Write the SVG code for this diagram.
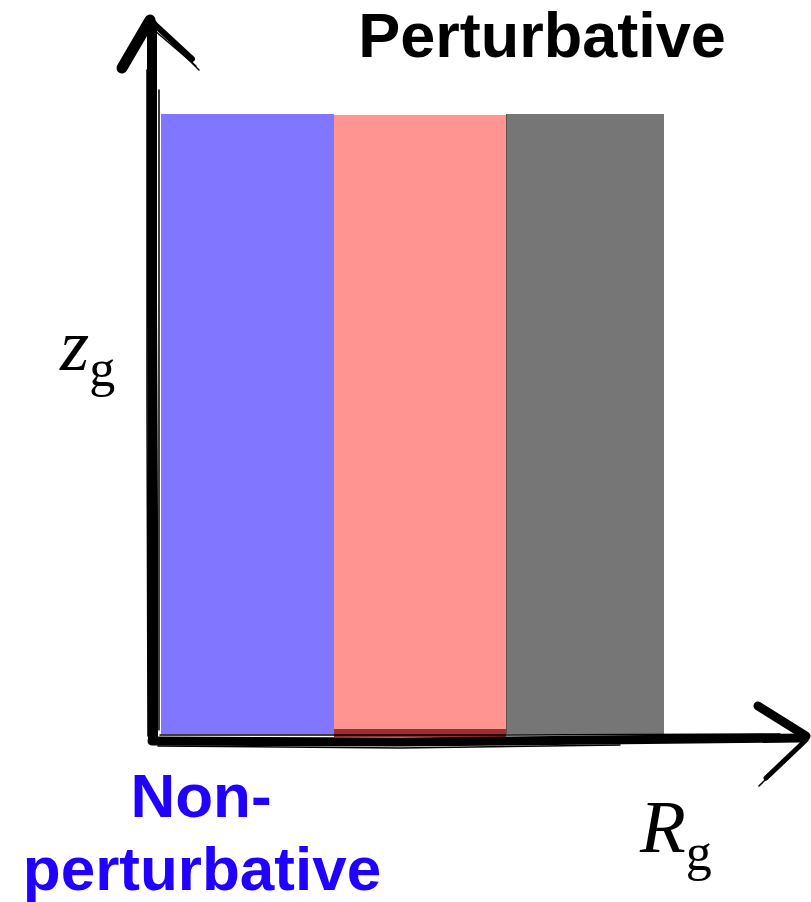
<svg xmlns="http://www.w3.org/2000/svg" width="811" height="902" viewBox="0 0 811 902">
<style>
.lbl{font-family:"Liberation Sans",Arial,Helvetica,sans-serif;font-weight:bold;}
.math{font-family:"Liberation Serif","Times New Roman",serif;}
.brush{fill:none;stroke:#000;stroke-linecap:round;}
.thin{fill:none;stroke:#000;stroke-linecap:round;stroke-width:1.5;}
</style>
<rect width="811" height="902" fill="#fff"/>
<g id="region-blue"><rect x="161" y="114" width="173" height="620" fill="#8076FF"/></g>
<g id="region-red"><rect x="334" y="115" width="172" height="622" fill="#FF9490"/><rect x="334" y="729" width="172" height="8" fill="#8A1E1E" opacity="0.85"/></g>
<g id="region-gray"><rect x="506" y="114" width="158" height="620" fill="#767676"/><line x1="506.5" y1="114" x2="506.5" y2="734" stroke="#555" stroke-width="1"/></g>
<g id="connectors">
  <g id="axis-y">
    <path class="brush" d="M152 24 L152 300 L153 520 L153 738" stroke-width="10"/>
    <path class="thin" d="M147 70 L147 400 L148 736"/>
    <path class="thin" d="M159 90 L159 400 L159 730"/>
    <path class="brush" d="M150 20 L122 68" stroke-width="11"/>
    <path class="brush" d="M152 22 L192 59" stroke-width="6"/>
    <path class="thin" d="M155 26 L199 70"/>
    <path class="thin" d="M154 30 L196 66"/>
  </g>
  <g id="axis-x">
    <path class="brush" d="M152 741 L400 742 L600 740 L800 738" stroke-width="9"/>
    <path class="thin" d="M158 746 L400 748 L620 745"/>
    <path class="thin" d="M160 735 L500 735 L780 734"/>
    <path class="brush" d="M758 706 L806 736" stroke-width="9"/>
    <path class="brush" d="M806 740 L766 778" stroke-width="5"/>
    <path class="thin" d="M804 742 L759 786"/>
  </g>
</g>
<g id="label-perturbative"><text class="lbl" x="542" y="57" font-size="63" text-anchor="middle" fill="#000">Perturbative</text></g>
<g id="label-nonperturbative" fill="#2000FF">
  <text class="lbl" x="201" y="817" font-size="62" text-anchor="middle">Non-</text>
  <text class="lbl" x="202" y="890" font-size="62" text-anchor="middle">perturbative</text>
</g>
<g id="label-zg"><text class="math" x="60" y="370" font-size="75" font-style="italic">z<tspan font-style="normal" font-size="52" dy="16">g</tspan></text></g>
<g id="label-Rg"><text class="math" x="640" y="852" font-size="75" font-style="italic">R<tspan font-style="normal" font-size="52" dy="18">g</tspan></text></g>
</svg>
